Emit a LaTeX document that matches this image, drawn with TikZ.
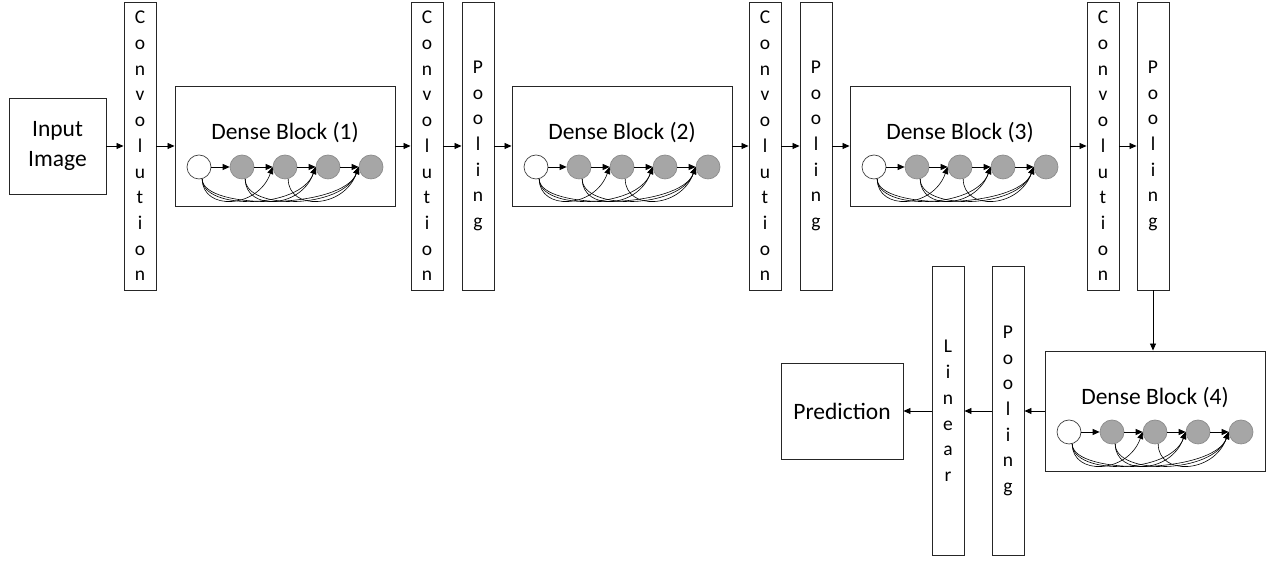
\documentclass[tikz,border=0pt]{standalone}
\usepackage{fontspec}
\setmainfont{Carlito}
\usetikzlibrary{arrows.meta}

\tikzset{
	box/.style={draw=black!85, line width=0.9pt, inner sep=0pt, align=center, font=\fontsize{23.5}{30}\selectfont},
	layer/.style={box, minimum width=32pt, minimum height=288pt, font=\fontsize{19.5}{25.7}\selectfont},
	title/.style={inner sep=0pt, font=\fontsize{23.5}{28}\selectfont},
	unit/.style={circle, draw=black!75, line width=0.7pt, minimum size=24pt, inner sep=0pt},
	feat/.style={unit, fill=black!35, draw=black!45},
	link/.style={-{Triangle[length=7pt,width=6pt]}, line width=0.8pt},
	skip/.style={link, line width=0.6pt},
}

% dense block: name, centre, number
\newcommand\denseblock[3]{%
	\begin{scope}[shift={(#2)}]
		\node[box, minimum width=220pt, minimum height=120pt] (#1) at (0,0) {};
		\node[title, anchor=base] at (0,6) {Dense Block (#3)};
		\node[unit] (#1-0) at (-86,-21) {};
		\foreach \i in {1,...,4}
			\node[feat] (#1-\i) at ({-86+43*\i},-21) {};
		\foreach \i in {0,...,3} {
			\pgfmathtruncatemacro\j{\i+1}
			\draw[link] (#1-\i.east) -- (#1-\j.west);
		}
		% skip connections
		\foreach \s/\t in {0/2,0/3,0/4,1/3,1/4,2/4}
			\draw[skip] (#1-\s.-75) .. controls +(0,-32) and +(-15,-42) .. (#1-\t.west);
	\end{scope}}

\begin{document}
\begin{tikzpicture}[x=1pt, y=1pt]
	\useasboundingbox (0,0) rectangle (1270,561);
	
	% top row
	\node[box, minimum width=97pt, minimum height=96pt] (in) at (57.5,415) {Input\\Image};
	\node[layer] (conv1) at (140,415) {C\\o\\n\\v\\o\\l\\u\\t\\i\\o\\n};
	\denseblock{db1}{285,415}{1}
	\node[layer] (conv2) at (427,415) {C\\o\\n\\v\\o\\l\\u\\t\\i\\o\\n};
	\node[layer] (pool1) at (478,415) {P\\o\\o\\l\\i\\n\\g};
	\denseblock{db2}{622,415}{2}
	\node[layer] (conv3) at (765,415) {C\\o\\n\\v\\o\\l\\u\\t\\i\\o\\n};
	\node[layer] (pool2) at (816,415) {P\\o\\o\\l\\i\\n\\g};
	\denseblock{db3}{960,415}{3}
	\node[layer] (conv4) at (1103,415) {C\\o\\n\\v\\o\\l\\u\\t\\i\\o\\n};
	\node[layer] (pool3) at (1153,415) {P\\o\\o\\l\\i\\n\\g};
	
	% bottom row
	\denseblock{db4}{1155,150}{4}
	\node[layer, minimum height=289pt] (pool4) at (1008,150) {P\\o\\o\\l\\i\\n\\g};
	\node[layer, minimum height=289pt] (lin) at (948,150) {L\\i\\n\\e\\a\\r};
	\node[box, minimum width=122pt, minimum height=96pt] (pred) at (842,150) {Prediction};
	
	% arrows
	\draw[link] (in) -- (conv1);
	\draw[link] (conv1) -- (db1);
	\draw[link] (db1) -- (conv2);
	\draw[link] (conv2) -- (pool1);
	\draw[link] (pool1) -- (db2);
	\draw[link] (db2) -- (conv3);
	\draw[link] (conv3) -- (pool2);
	\draw[link] (pool2) -- (db3);
	\draw[link] (db3) -- (conv4);
	\draw[link] (conv4) -- (pool3);
	\draw[link] (pool3.south) -- (pool3.south |- db4.north);
	\draw[link] (db4) -- (pool4);
	\draw[link] (pool4) -- (lin);
	\draw[link] (lin) -- (pred);
\end{tikzpicture}
\end{document}
